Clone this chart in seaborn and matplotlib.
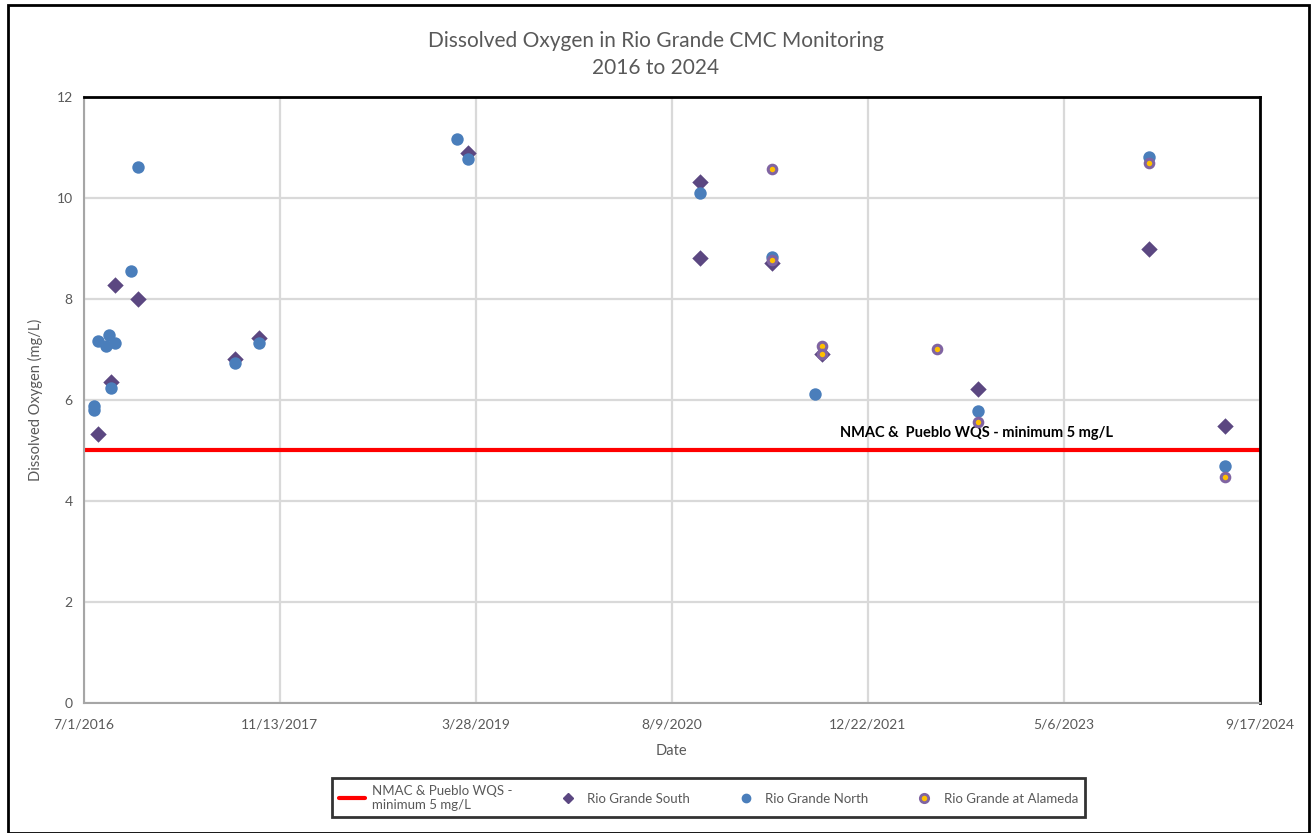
import numpy as np
import pandas as pd
import matplotlib
matplotlib.use("Agg")
import matplotlib.pyplot as plt
import matplotlib.dates as mdates
from matplotlib.lines import Line2D
from matplotlib.patches import Rectangle
from matplotlib.ticker import FuncFormatter
import seaborn as sns

# data
south_dates = ["2016-08-07", "2016-09-08", "2016-09-18", "2016-11-15", "2017-07-22", "2017-09-21",
               "2019-03-08", "2020-10-20", "2020-10-20", "2021-04-22", "2021-08-27", "2022-09-30",
               "2023-12-09", "2024-06-21"]
south_do = [5.33, 6.36, 8.28, 8.00, 6.81, 7.23, 10.89, 10.31, 8.81, 8.71, 6.90, 6.22, 8.98, 5.49]

north_dates = ["2016-07-27", "2016-07-27", "2016-08-07", "2016-08-26", "2016-09-03", "2016-09-18",
               "2016-09-08", "2016-10-29", "2016-11-15", "2017-07-22", "2017-09-21", "2019-02-07",
               "2019-03-08", "2020-10-20", "2021-04-22", "2021-08-10", "2022-09-30", "2023-12-09",
               "2024-06-21"]
north_do = [5.87, 5.79, 7.17, 7.06, 7.29, 7.13, 6.24, 8.55, 10.61, 6.73, 7.12, 11.17, 10.77, 10.09,
            8.82, 6.12, 5.78, 10.81, 4.69]

alameda_dates = ["2021-04-22", "2021-04-22", "2021-08-27", "2021-08-27", "2022-06-17", "2022-09-30",
                 "2023-12-09", "2024-06-21"]
alameda_do = [10.56, 8.76, 7.06, 6.90, 7.00, 5.57, 10.69, 4.48]

wqs_min = 5
start_date = "2016-07-01"
end_date = "2024-09-17"

south = pd.DataFrame({"date": pd.to_datetime(south_dates), "do": south_do})
north = pd.DataFrame({"date": pd.to_datetime(north_dates), "do": north_do})
alameda = pd.DataFrame({"date": pd.to_datetime(alameda_dates), "do": alameda_do})

sns.set_style("whitegrid")
plt.rcParams["font.family"] = ["Lato", "DejaVu Sans"]

gray_txt = "#595959"
c_south = "#5B4781"
c_north = "#4A7EBB"
c_ring = "#8064A2"
c_dot = "#FFC000"

fig = plt.figure(figsize=(13.12, 8.33), dpi=100)
ax = fig.add_axes([0.064, 0.156, 0.896, 0.728])

ax.axhline(wqs_min, color="red", lw=3, zorder=2)
sns.scatterplot(data=south, x="date", y="do", ax=ax, marker="D", s=70, color=c_south,
                edgecolor=c_south, linewidth=0, zorder=3)
sns.scatterplot(data=north, x="date", y="do", ax=ax, marker="o", s=80, color=c_north,
                edgecolor=c_north, linewidth=0, zorder=4)
sns.scatterplot(data=alameda, x="date", y="do", ax=ax, marker="o", s=38, color=c_dot,
                edgecolor=c_ring, linewidth=2.2, zorder=5)

ax.set_xlim(pd.Timestamp(start_date), pd.Timestamp(end_date))
ax.set_ylim(0, 12)
ax.set_yticks(np.arange(0, 13, 2))
ax.set_xticks(pd.date_range(start_date, periods=7, freq="500D"))
ax.xaxis.set_major_formatter(FuncFormatter(
    lambda v, p: "{0}/{1}/{2}".format(mdates.num2date(v).month, mdates.num2date(v).day,
                                      mdates.num2date(v).year)))
ax.grid(True, color="#D9D9D9", lw=1.6)
ax.tick_params(colors=gray_txt, labelsize=10, length=0)
ax.tick_params(axis="x", pad=11)
ax.tick_params(axis="y", pad=8)

for s in ["left", "bottom"]:
    ax.spines[s].set_color("#A6A6A6")
    ax.spines[s].set_linewidth(1.5)
for s in ["top", "right"]:
    ax.spines[s].set_color("black")
    ax.spines[s].set_linewidth(2)

ax.set_xlabel("Date", color=gray_txt, fontsize=10.5, labelpad=10)
ax.set_ylabel("Dissolved Oxygen (mg/L)", color=gray_txt, fontsize=10.5, labelpad=10)
fig.suptitle("Dissolved Oxygen in Rio Grande CMC Monitoring\n2016 to 2024", y=0.963,
             color=gray_txt, fontsize=15, linespacing=1.45)

ax.text(pd.Timestamp("2022-09-25"), 5.35, "NMAC &  Pueblo WQS - minimum 5 mg/L",
        ha="center", va="center", fontsize=10.5, fontweight="bold", color="black")

handles = [
    Line2D([], [], color="red", lw=3),
    Line2D([], [], marker="D", ls="none", color=c_south, markersize=5),
    Line2D([], [], marker="o", ls="none", color=c_north, markersize=6),
    Line2D([], [], marker="o", ls="none", markerfacecolor=c_dot, markeredgecolor=c_ring,
           markeredgewidth=2, markersize=6),
]
labels = ["NMAC & Pueblo WQS -\nminimum 5 mg/L", "Rio Grande South", "Rio Grande North",
          "Rio Grande at Alameda"]
leg = fig.legend(handles, labels, loc="center", bbox_to_anchor=(0.54, 0.0425), ncol=4,
                 frameon=True, fancybox=False, fontsize=9.5, columnspacing=3.2,
                 handlelength=2.0, handletextpad=0.5, borderpad=0.5, borderaxespad=0)
leg.get_frame().set_edgecolor("black")
leg.get_frame().set_linewidth(2)
for t in leg.get_texts():
    t.set_color(gray_txt)

fig.patches.append(Rectangle((0.006, 0.0), 0.992, 0.994, transform=fig.transFigure,
                             fill=False, edgecolor="black", lw=2))

fig.savefig("out.png", dpi=100)
